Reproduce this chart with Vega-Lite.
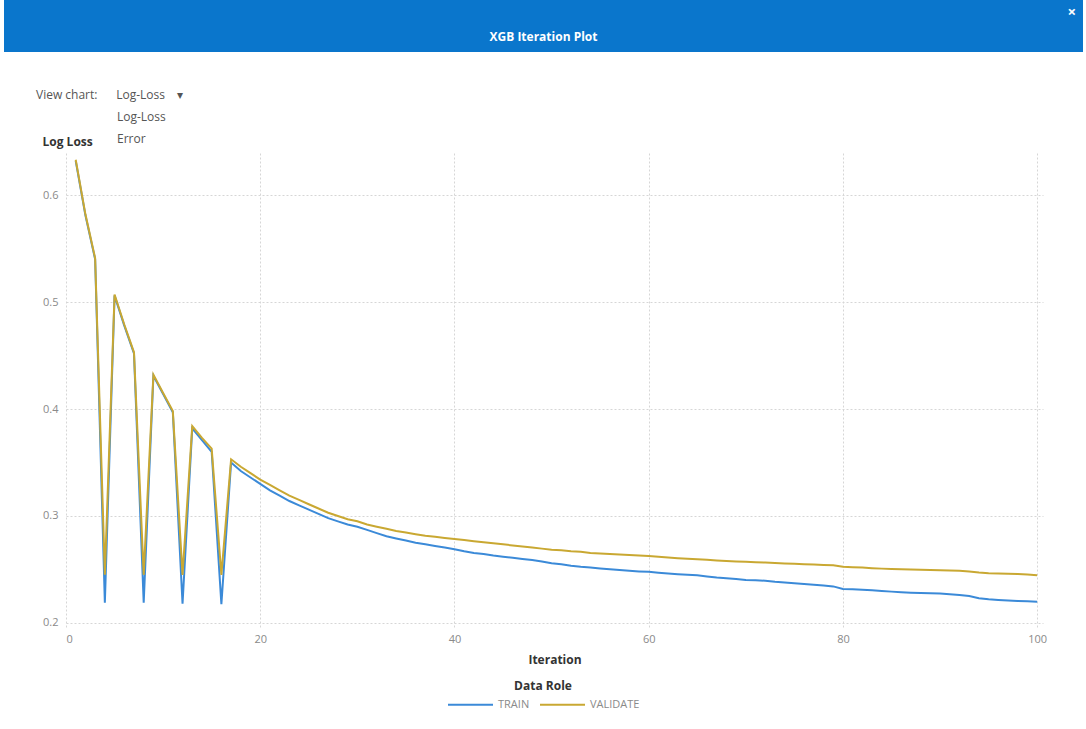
{
  "$schema": "https://vega.github.io/schema/vega-lite/v6.json",
  "padding": {"left": 4, "top": 0, "right": 3, "bottom": 0},
  "background": "white",
  "spacing": 37,
  "config": {
    "font": "Open Sans",
    "view": {"stroke": null},
    "axis": {
      "grid": true,
      "gridDash": [2, 2],
      "gridColor": "#d6d6d6",
      "domain": false,
      "ticks": false,
      "labelColor": "#8a8a8a",
      "labelFontSize": 11,
      "labelFont": "Open Sans",
      "titleFont": "Open Sans",
      "titleFontSize": 12,
      "titleColor": "#333333",
      "titleFontWeight": "bold"
    },
    "legend": {
      "layout": {"bottom": {"anchor": "middle"}},
      "labelColor": "#8a8a8a",
      "labelFontSize": 11,
      "titleFontSize": 12,
      "titleColor": "#333333",
      "titleFontWeight": "bold"
    }
  },
  "vconcat": [
    {
      "width": 1079,
      "height": 52,
      "title": {"text": "×", "anchor": "end", "orient": "top", "offset": -20, "color": "white", "fontSize": 15, "fontWeight": "bold", "dx": -7},
      "data": {"values": [{"t": "XGB Iteration Plot"}]},
      "layer": [
        {"mark": {"type": "rect", "fill": "#0a76cc"}, "encoding": {}},
        {"mark": {"type": "text", "color": "white", "fontWeight": "bold", "fontSize": 12, "dy": 11}, "encoding": {"text": {"field": "t"}}}
      ]
    },
    {
      "spacing": 0,
      "bounds": "flush",
      "hconcat": [
        {
          "width": 62,
          "height": 10,
          "title": {"text": ["Log-Loss", "Error"], "anchor": "start", "frame": "group", "dx": 113, "offset": 7, "fontSize": 12, "fontWeight": "normal", "color": "#555555", "lineHeight": 22},
          "data": {"values": []},
          "mark": "point"
        },
        {
          "width": 977,
          "height": 475,
          "title": {
            "text": "View chart:\u00a0\u00a0\u00a0\u00a0\u00a0\u00a0Log-Loss\u00a0\u00a0\u00a0\u00a0▾",
            "anchor": "start", "frame": "group", "dx": -30, "offset": 33,
            "fontSize": 12, "fontWeight": "normal", "color": "#555555"
          },
          "data": {"values": [
            {"Iteration": 1, "TRAIN": 0.632, "VALIDATE": 0.633},
            {"Iteration": 2, "TRAIN": 0.581, "VALIDATE": 0.582},
            {"Iteration": 3, "TRAIN": 0.540, "VALIDATE": 0.541},
            {"Iteration": 4, "TRAIN": 0.219, "VALIDATE": 0.245},
            {"Iteration": 5, "TRAIN": 0.506, "VALIDATE": 0.507},
            {"Iteration": 6, "TRAIN": 0.478, "VALIDATE": 0.479},
            {"Iteration": 7, "TRAIN": 0.452, "VALIDATE": 0.453},
            {"Iteration": 8, "TRAIN": 0.219, "VALIDATE": 0.245},
            {"Iteration": 9, "TRAIN": 0.431, "VALIDATE": 0.432},
            {"Iteration": 10, "TRAIN": 0.414, "VALIDATE": 0.415},
            {"Iteration": 11, "TRAIN": 0.397, "VALIDATE": 0.398},
            {"Iteration": 12, "TRAIN": 0.218, "VALIDATE": 0.245},
            {"Iteration": 13, "TRAIN": 0.382, "VALIDATE": 0.384},
            {"Iteration": 14, "TRAIN": 0.371, "VALIDATE": 0.373},
            {"Iteration": 15, "TRAIN": 0.360, "VALIDATE": 0.363},
            {"Iteration": 16, "TRAIN": 0.2175, "VALIDATE": 0.245},
            {"Iteration": 17, "TRAIN": 0.350, "VALIDATE": 0.353},
            {"Iteration": 18, "TRAIN": 0.342, "VALIDATE": 0.346},
            {"Iteration": 19, "TRAIN": 0.336, "VALIDATE": 0.340},
            {"Iteration": 20, "TRAIN": 0.330, "VALIDATE": 0.334},
            {"Iteration": 21, "TRAIN": 0.324, "VALIDATE": 0.329},
            {"Iteration": 22, "TRAIN": 0.319, "VALIDATE": 0.324},
            {"Iteration": 23, "TRAIN": 0.314, "VALIDATE": 0.319},
            {"Iteration": 24, "TRAIN": 0.310, "VALIDATE": 0.315},
            {"Iteration": 25, "TRAIN": 0.306, "VALIDATE": 0.311},
            {"Iteration": 26, "TRAIN": 0.302, "VALIDATE": 0.307},
            {"Iteration": 27, "TRAIN": 0.298, "VALIDATE": 0.303},
            {"Iteration": 28, "TRAIN": 0.295, "VALIDATE": 0.300},
            {"Iteration": 29, "TRAIN": 0.292, "VALIDATE": 0.297},
            {"Iteration": 30, "TRAIN": 0.290, "VALIDATE": 0.295},
            {"Iteration": 31, "TRAIN": 0.287, "VALIDATE": 0.292},
            {"Iteration": 32, "TRAIN": 0.284, "VALIDATE": 0.290},
            {"Iteration": 33, "TRAIN": 0.281, "VALIDATE": 0.288},
            {"Iteration": 34, "TRAIN": 0.279, "VALIDATE": 0.286},
            {"Iteration": 35, "TRAIN": 0.277, "VALIDATE": 0.2845},
            {"Iteration": 36, "TRAIN": 0.275, "VALIDATE": 0.283},
            {"Iteration": 37, "TRAIN": 0.2735, "VALIDATE": 0.2815},
            {"Iteration": 38, "TRAIN": 0.272, "VALIDATE": 0.2805},
            {"Iteration": 39, "TRAIN": 0.2705, "VALIDATE": 0.2795},
            {"Iteration": 40, "TRAIN": 0.269, "VALIDATE": 0.2785},
            {"Iteration": 41, "TRAIN": 0.267, "VALIDATE": 0.2775},
            {"Iteration": 42, "TRAIN": 0.2655, "VALIDATE": 0.2765},
            {"Iteration": 43, "TRAIN": 0.2645, "VALIDATE": 0.2755},
            {"Iteration": 44, "TRAIN": 0.263, "VALIDATE": 0.2745},
            {"Iteration": 45, "TRAIN": 0.262, "VALIDATE": 0.2735},
            {"Iteration": 46, "TRAIN": 0.261, "VALIDATE": 0.2725},
            {"Iteration": 47, "TRAIN": 0.2598, "VALIDATE": 0.2715},
            {"Iteration": 48, "TRAIN": 0.2588, "VALIDATE": 0.2705},
            {"Iteration": 49, "TRAIN": 0.2575, "VALIDATE": 0.2695},
            {"Iteration": 50, "TRAIN": 0.2558, "VALIDATE": 0.2685},
            {"Iteration": 51, "TRAIN": 0.2548, "VALIDATE": 0.268},
            {"Iteration": 52, "TRAIN": 0.2535, "VALIDATE": 0.267},
            {"Iteration": 53, "TRAIN": 0.2525, "VALIDATE": 0.2665},
            {"Iteration": 54, "TRAIN": 0.2518, "VALIDATE": 0.2655},
            {"Iteration": 55, "TRAIN": 0.251, "VALIDATE": 0.265},
            {"Iteration": 56, "TRAIN": 0.2502, "VALIDATE": 0.2645},
            {"Iteration": 57, "TRAIN": 0.2495, "VALIDATE": 0.264},
            {"Iteration": 58, "TRAIN": 0.2488, "VALIDATE": 0.2635},
            {"Iteration": 59, "TRAIN": 0.2482, "VALIDATE": 0.263},
            {"Iteration": 60, "TRAIN": 0.2478, "VALIDATE": 0.2625},
            {"Iteration": 61, "TRAIN": 0.247, "VALIDATE": 0.262},
            {"Iteration": 62, "TRAIN": 0.2462, "VALIDATE": 0.2612},
            {"Iteration": 63, "TRAIN": 0.2455, "VALIDATE": 0.2605},
            {"Iteration": 64, "TRAIN": 0.245, "VALIDATE": 0.26},
            {"Iteration": 65, "TRAIN": 0.2445, "VALIDATE": 0.2595},
            {"Iteration": 66, "TRAIN": 0.2435, "VALIDATE": 0.259},
            {"Iteration": 67, "TRAIN": 0.2425, "VALIDATE": 0.2585},
            {"Iteration": 68, "TRAIN": 0.2418, "VALIDATE": 0.258},
            {"Iteration": 69, "TRAIN": 0.241, "VALIDATE": 0.2575},
            {"Iteration": 70, "TRAIN": 0.2402, "VALIDATE": 0.2572},
            {"Iteration": 71, "TRAIN": 0.24, "VALIDATE": 0.2568},
            {"Iteration": 72, "TRAIN": 0.2395, "VALIDATE": 0.2565},
            {"Iteration": 73, "TRAIN": 0.2385, "VALIDATE": 0.256},
            {"Iteration": 74, "TRAIN": 0.2378, "VALIDATE": 0.2557},
            {"Iteration": 75, "TRAIN": 0.2372, "VALIDATE": 0.2553},
            {"Iteration": 76, "TRAIN": 0.2365, "VALIDATE": 0.255},
            {"Iteration": 77, "TRAIN": 0.2358, "VALIDATE": 0.2546},
            {"Iteration": 78, "TRAIN": 0.235, "VALIDATE": 0.2543},
            {"Iteration": 79, "TRAIN": 0.2342, "VALIDATE": 0.254},
            {"Iteration": 80, "TRAIN": 0.2318, "VALIDATE": 0.2525},
            {"Iteration": 81, "TRAIN": 0.2315, "VALIDATE": 0.2522},
            {"Iteration": 82, "TRAIN": 0.231, "VALIDATE": 0.2518},
            {"Iteration": 83, "TRAIN": 0.2305, "VALIDATE": 0.2512},
            {"Iteration": 84, "TRAIN": 0.2298, "VALIDATE": 0.2508},
            {"Iteration": 85, "TRAIN": 0.2293, "VALIDATE": 0.2505},
            {"Iteration": 86, "TRAIN": 0.2288, "VALIDATE": 0.2502},
            {"Iteration": 87, "TRAIN": 0.2283, "VALIDATE": 0.25},
            {"Iteration": 88, "TRAIN": 0.228, "VALIDATE": 0.2498},
            {"Iteration": 89, "TRAIN": 0.2278, "VALIDATE": 0.2495},
            {"Iteration": 90, "TRAIN": 0.2275, "VALIDATE": 0.2492},
            {"Iteration": 91, "TRAIN": 0.2268, "VALIDATE": 0.249},
            {"Iteration": 92, "TRAIN": 0.2262, "VALIDATE": 0.2487},
            {"Iteration": 93, "TRAIN": 0.2252, "VALIDATE": 0.2482},
            {"Iteration": 94, "TRAIN": 0.2232, "VALIDATE": 0.2472},
            {"Iteration": 95, "TRAIN": 0.2222, "VALIDATE": 0.2465},
            {"Iteration": 96, "TRAIN": 0.2215, "VALIDATE": 0.2462},
            {"Iteration": 97, "TRAIN": 0.221, "VALIDATE": 0.246},
            {"Iteration": 98, "TRAIN": 0.2206, "VALIDATE": 0.2457},
            {"Iteration": 99, "TRAIN": 0.2202, "VALIDATE": 0.2452},
            {"Iteration": 100, "TRAIN": 0.2198, "VALIDATE": 0.2446}
          ]},
          "transform": [{"fold": ["TRAIN", "VALIDATE"], "as": ["Data Role", "LogLoss"]}],
          "mark": {"type": "line", "strokeWidth": 2},
          "encoding": {
            "x": {
              "field": "Iteration", "type": "quantitative",
              "scale": {"domain": [0, 100.6], "nice": false, "zero": false},
              "axis": {"values": [0, 20, 40, 60, 80, 100], "title": "Iteration", "labelPadding": 5, "titlePadding": 10}
            },
            "y": {
              "field": "LogLoss", "type": "quantitative",
              "scale": {"domain": [0.1953, 0.6393], "nice": false, "zero": false},
              "axis": {"values": [0.2, 0.3, 0.4, 0.5, 0.6], "format": ".1f", "title": "Log Loss", "titleAngle": 0, "titleX": -24, "titleY": -12, "titleAlign": "left", "titleBaseline": "middle", "labelPadding": 8}
            },
            "color": {
              "field": "Data Role", "type": "nominal",
              "scale": {"domain": ["TRAIN", "VALIDATE"], "range": ["#3b8ad8", "#c9a832"]},
              "legend": {"orient": "bottom", "direction": "horizontal", "titleAnchor": "middle", "symbolType": "M-1,0L5,0", "symbolSize": 225, "symbolStrokeWidth": 2, "offset": 16, "titlePadding": 3, "labelOffset": 34, "columnPadding": 6}
            }
          }
        }
      ]
    }
  ]
}
